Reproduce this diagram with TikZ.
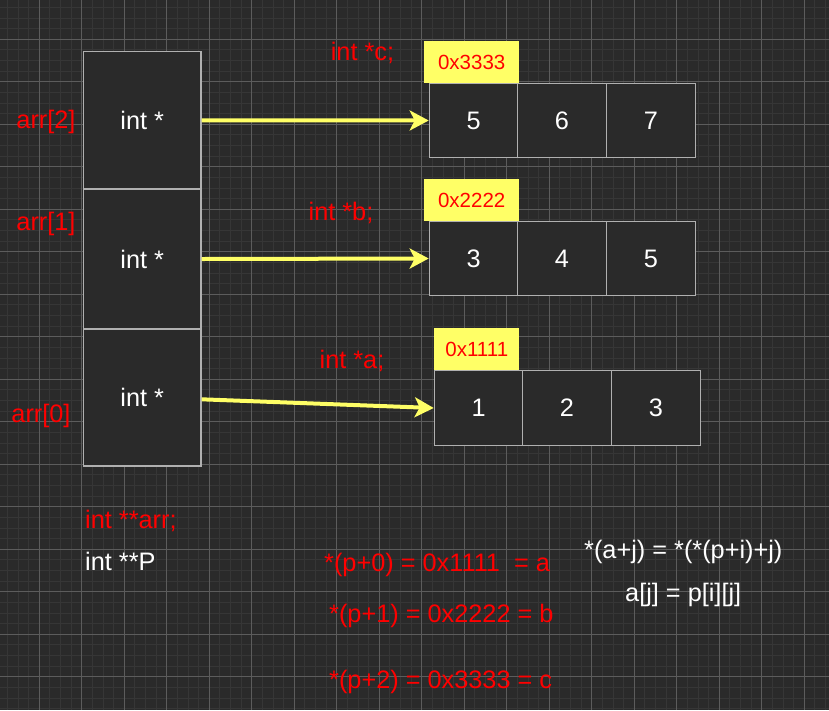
\documentclass[tikz,border=0pt]{standalone}
\usepackage{fontspec}
\setmainfont{Liberation Sans}
\usetikzlibrary{arrows.meta}
\definecolor{bgc}{HTML}{2A2A2A}
\definecolor{minorc}{HTML}{363636}
\definecolor{majorc}{HTML}{5C5C5C}
\definecolor{boxline}{HTML}{B0B0B0}
\definecolor{yel}{HTML}{FFFF66}
\definecolor{redc}{HTML}{FF0000}
\tikzset{
  minorgrid/.style={draw=minorc, line width=1pt},
  majorgrid/.style={draw=majorc, line width=1pt},
  ptrbox/.style={draw=boxline, fill=bgc, line width=1.2pt, minimum width=117.5pt, inner sep=0pt,
    text=white, font=\fontsize{25.3}{29}\selectfont},
  cell/.style={draw=boxline, fill=bgc, line width=1.2pt, minimum width=88.6pt, minimum height=74.4pt,
    inner sep=0pt, text=white, font=\fontsize{25.3}{29}\selectfont},
  addr/.style={fill=yel, draw=none, minimum height=42.3pt, inner sep=0pt, text=redc,
    font=\fontsize{20.5}{24}\selectfont},
  redtxt/.style={text=redc, inner sep=0pt, font=\fontsize{25.3}{29}\selectfont, text height=18.5pt, text depth=5pt},
  whitetxt/.style={text=white, inner sep=0pt, font=\fontsize{25.3}{29}\selectfont, text height=18.5pt, text depth=5pt},
  ptrarrow/.style={draw=yel, line width=4pt, -{Stealth[length=19pt,width=20pt,inset=5pt]}, shorten >=0pt}
}
\begin{document}
\begin{tikzpicture}[x=1pt,y=-1pt]
\useasboundingbox (0,0) rectangle (829,710);
\fill[bgc] (0,0) rectangle (829,710);
% grid
\foreach \i in {0,...,78} {\draw[minorgrid] ({7.425+\i*10.625},0) -- ({7.425+\i*10.625},710);}
\foreach \i in {0,...,67} {\draw[minorgrid] (0,{7.425+\i*10.625}) -- (829,{7.425+\i*10.625});}
\foreach \i in {0,...,20} {\draw[majorgrid] ({-3.2+\i*42.5},0) -- ({-3.2+\i*42.5},710);}
\foreach \i in {0,...,17} {\draw[majorgrid] (0,{-3.2+\i*42.5}) -- (829,{-3.2+\i*42.5});}

% pointer array boxes
\node[ptrbox, minimum height=137.5pt] (p2) at (142.25,120.25) {int *};
\node[ptrbox, minimum height=140pt] (p1) at (142.25,259) {int *};
\node[ptrbox, minimum height=137pt] (p0) at (142.25,397.5) {int *};

% index labels
\node[redtxt] (l2) at (46,122) {arr[2]};
\node[redtxt] (l1) at (46,224) {arr[1]};
\node[redtxt] (l0) at (41,416) {arr[0]};

% array c
\node[cell] (c1) at (473.6,120.5) {5};
\node[cell] (c2) at (562.0,120.5) {6};
\node[cell] (c3) at (650.9,120.5) {7};
\node[addr, minimum width=95.3pt] (ac) at (471.7,62.2) {0x3333};
% array b
\node[cell] (b1) at (473.6,258.5) {3};
\node[cell] (b2) at (562.0,258.5) {4};
\node[cell] (b3) at (650.9,258.5) {5};
\node[addr, minimum width=95.3pt] (ab) at (471.7,200) {0x2222};
% array a
\node[cell] (a1) at (478.6,408) {1};
\node[cell] (a2) at (567.0,408) {2};
\node[cell] (a3) at (655.9,408) {3};
\node[addr, minimum width=85pt] (aa) at (476.8,349.3) {0x1111};

% pointer names
\node[redtxt] (nc) at (362.5,54) {int *c;};
\node[redtxt] (nb) at (341,214) {int *b;};
\node[redtxt] (na) at (352,362) {int *a;};

% arrows
\draw[ptrarrow] (p2.east) -- (c1.west);
\draw[ptrarrow] (p1.east) -- (b1.west);
\draw[ptrarrow] ([yshift=-1.8pt]p0.east) -- (a1.west);

% bottom texts
\node[redtxt, anchor=west] (t1) at (85,522) {int **arr;};
\node[whitetxt, anchor=west] (t2) at (85,564) {int **P};
\node[redtxt, anchor=west] (e0) at (324,565) {*(p+0) = 0x1111\ \ = a};
\node[redtxt, anchor=west] (e1) at (329,616) {*(p+1) = 0x2222 = b};
\node[redtxt, anchor=west] (e2) at (329,682) {*(p+2) = 0x3333 = c};
\node[whitetxt, anchor=west] (f1) at (584,552) {*(a+j) = *(*(p+i)+j)};
\node[whitetxt, anchor=west] (f2) at (625,595) {a[j] = p[i][j]};
\end{tikzpicture}
\end{document}
